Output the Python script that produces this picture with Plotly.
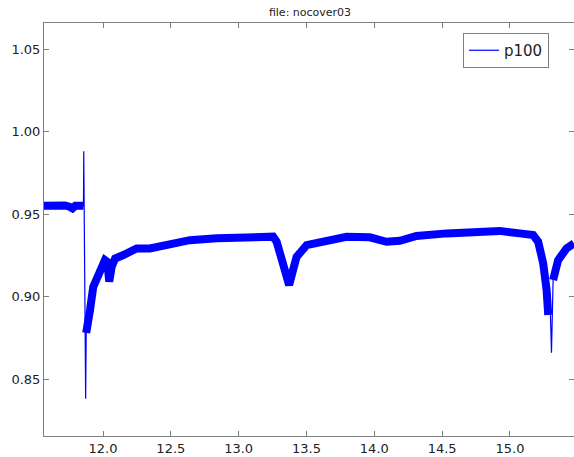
import plotly.graph_objects as go

# ---- data ----
pre_t = [11.565, 11.611, 11.665, 11.720, 11.753, 11.775, 11.796, 11.829, 11.856]
pre_v = [0.9550, 0.9553, 0.9548, 0.9552, 0.9545, 0.9535, 0.9550, 0.9552, 0.9550]

spike1_t = [11.858, 11.861, 11.864, 11.868, 11.872]
spike1_v = [0.988, 0.950, 0.920, 0.900, 0.838]

rec_t = [11.876, 11.885, 11.904, 11.928, 11.965, 12.014, 12.032, 12.046, 12.064,
         12.089, 12.150, 12.248, 12.346, 12.493, 12.640, 12.838, 13.009, 13.132,
         13.254, 13.280, 13.317, 13.354, 13.372, 13.391, 13.427, 13.501, 13.599,
         13.746, 13.795, 13.967, 14.090, 14.188, 14.311, 14.533, 14.729, 14.925,
         15.073, 15.171, 15.208, 15.245, 15.270, 15.282]
rec_v = [0.878, 0.8817, 0.8918, 0.9059, 0.914, 0.9221, 0.921, 0.909, 0.918,
         0.9231, 0.9252, 0.9292, 0.9292, 0.9322, 0.9342, 0.9353, 0.9353, 0.9363,
         0.9363, 0.9332, 0.9241, 0.914, 0.907, 0.913, 0.9241, 0.9312, 0.9332,
         0.9362, 0.9362, 0.9359, 0.9332, 0.9338, 0.9367, 0.9383, 0.9393, 0.9398,
         0.9383, 0.9373, 0.9332, 0.9201, 0.904, 0.8888]

spike2_t = [15.294, 15.306]
spike2_v = [0.902, 0.866]

post_t = [15.318, 15.355, 15.417, 15.472]
post_v = [0.910, 0.9221, 0.9292, 0.9322]

x_ticks = [12.0, 12.5, 13.0, 13.5, 14.0, 14.5, 15.0]
y_ticks = [0.85, 0.90, 0.95, 1.00, 1.05]
series_name = "p100"
title_text = "file: nocover03"

# ---- build ----
all_t = pre_t + spike1_t + rec_t + spike2_t + post_t
all_v = pre_v + spike1_v + rec_v + spike2_v + post_v
band_t = pre_t + [None] + rec_t + [None] + post_t
band_v = pre_v + [None] + rec_v + [None] + post_v

BLUE = "#0000ff"
FONT = "DejaVu Sans"

fig = go.Figure()
fig.add_trace(go.Scatter(x=band_t, y=band_v, mode="lines", showlegend=False,
                         line=dict(color=BLUE, width=8), hoverinfo="skip",
                         connectgaps=False))
fig.add_trace(go.Scatter(x=all_t, y=all_v, mode="lines", name=series_name,
                         line=dict(color=BLUE, width=1.2)))

W, H = 574, 457
L, R, T, B = 44, 0, 23, 21

axis_common = dict(showgrid=False, zeroline=False, showline=True, linecolor="#808080",
                   linewidth=1, mirror="ticks", ticks="inside", ticklen=5,
                   tickcolor="#808080", tickfont=dict(family=FONT, size=13, color="#222222"))

fig.update_layout(
    width=W, height=H,
    margin=dict(l=L, r=R, t=T, b=B, autoexpand=False),
    plot_bgcolor="white", paper_bgcolor="white",
    title=dict(text=title_text, x=310 / W, xanchor="center", xref="container",
               y=1 - 12 / H, yanchor="middle", yref="container",
               font=dict(family=FONT, size=11, color="#222222")),
    xaxis=dict(range=[11.565, 15.472], tickvals=x_ticks,
               ticktext=[f"{v:.1f}" for v in x_ticks], **axis_common),
    yaxis=dict(range=[0.8155, 1.0658], tickvals=y_ticks,
               ticktext=[f"{v:.2f}" for v in y_ticks], **axis_common),
    legend=dict(x=(549 - L) / (W - L - R), xanchor="right",
                y=(H - B - 33) / (H - T - B), yanchor="top",
                bordercolor="#808080", borderwidth=1, bgcolor="white",
                font=dict(family=FONT, size=15, color="#222222"),
                tracegroupgap=0),
    showlegend=True,
)

fig.write_html("out.html", config={"displayModeBar": False},
               post_script="document.body.style.margin='0px';")
